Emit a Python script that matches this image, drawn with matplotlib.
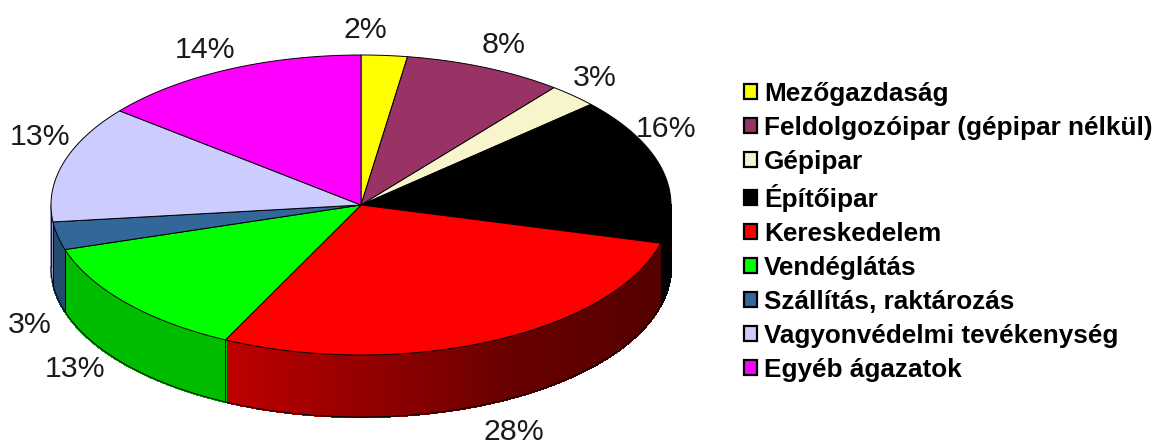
import matplotlib
matplotlib.use("Agg")
import matplotlib.pyplot as plt
from matplotlib.patches import Patch
from matplotlib.colors import to_rgb
import numpy as np

plt.rcParams['font.family'] = ['Liberation Sans', 'DejaVu Sans']

# Data (shares in percent, labels are rounded)
categories = ['Mezőgazdaság', 'Feldolgozóipar (gépipar nélkül)', 'Gépipar', 'Építőipar',
              'Kereskedelem', 'Vendéglátás', 'Szállítás, raktározás',
              'Vagyonvédelmi tevékenység', 'Egyéb ágazatok']
shares = [2.4, 8.3, 2.6, 15.8, 28.1, 13.0, 3.0, 12.6, 14.2]
colors = ['#FFFF00', '#993366', '#F8F4CC', '#000000', '#FF0000', '#00FF00', '#336699', '#CCCCFF', '#FF00FF']

# Layout in pixels
cx, cy = 361, 205
rx, ry = 310, 150
depth = 62
label_xy = [(365, 30), (504, 45), (595, 78), (666, 129), (514, 432),
            (75, 369), (30, 325), (40, 137), (205, 50)]


def rim(deg):
    # angle runs clockwise from the top of the ellipse
    a = np.radians(deg)
    return cx + rx * np.sin(a), cy - ry * np.cos(a)


def shade(deg):
    # side wall gets lighter towards the left
    return np.interp(deg, [90, 150, 205, 270], [0.30, 0.40, 0.74, 0.74])


fig = plt.figure(figsize=(11.57, 4.45), dpi=100)
ax = fig.add_axes([0, 0, 1, 1])
ax.set_xlim(0, 1157)
ax.set_ylim(445, 0)
ax.axis('off')

edges = np.concatenate([[0], np.cumsum(shares)]) * 3.6
edges[-1] = 360

# Side walls, only the front half shows
for i in range(len(shares)):
    start = max(edges[i], 90)
    end = min(edges[i + 1], 270)
    if end <= start:
        continue
    steps = np.linspace(start, end, int(end - start) + 2)
    base = np.array(to_rgb(colors[i]))
    for a0, a1 in zip(steps[:-1], steps[1:]):
        x0, y0 = rim(a0)
        x1, y1 = rim(a1)
        c = base * shade((a0 + a1) / 2)
        # no antialiasing here, otherwise the strips show seams
        ax.fill([x0, x1, x1, x0], [y0, y1, y1 + depth, y0 + depth], color=c, lw=1.0, antialiased=False, zorder=2)
    # outline of the wall
    t = np.linspace(start, end, 100)
    xs, ys = rim(t)
    ax.plot(xs, ys + depth, color='black', lw=0.7, zorder=3)
    ax.plot([xs[0], xs[0]], [ys[0], ys[0] + depth], color='black', lw=0.6, zorder=3)
    ax.plot([xs[-1], xs[-1]], [ys[-1], ys[-1] + depth], color='black', lw=0.6, zorder=3)

# Top face
for i in range(len(shares)):
    t = np.linspace(edges[i], edges[i + 1], 100)
    xs, ys = rim(t)
    ax.fill(np.r_[cx, xs], np.r_[cy, ys], facecolor=colors[i], edgecolor='black', lw=0.7, zorder=4)

# Percent labels
for v, (x, y) in zip(shares, label_xy):
    ax.text(x, y, f'{v:.0f}%', fontsize=21.8, color='#1a1a1a', ha='center', va='center', zorder=5)

handles = [Patch(facecolor=c, edgecolor='black', linewidth=1.6) for c in colors]
ax.legend(handles, categories, loc='upper left', bbox_to_anchor=(0.643, 0.8155), frameon=False,
          prop={'weight': 'bold', 'size': 18.8}, handlelength=0.5, handleheight=0.5,
          handletextpad=0.27, labelspacing=0.381, borderaxespad=0, borderpad=0)

fig.savefig('out.png', dpi=100)
